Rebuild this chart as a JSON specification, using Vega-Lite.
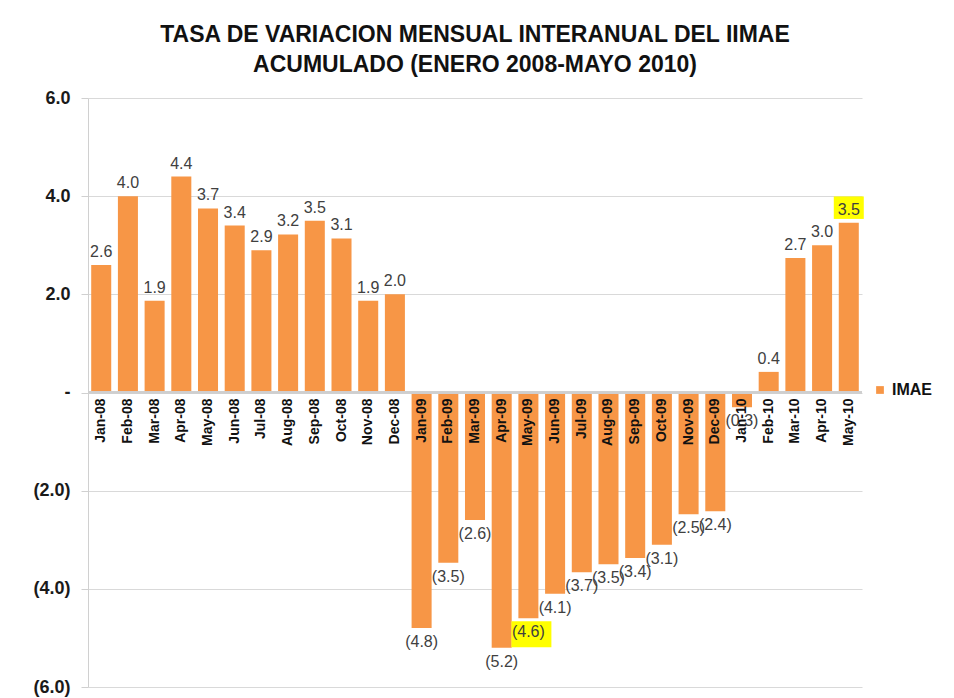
{
  "$schema": "https://vega.github.io/schema/vega-lite/v6.json",
  "autosize": {"type": "none"},
  "width": 774,
  "height": 589,
  "padding": {"left": 88, "top": 98, "right": 92, "bottom": 11},
  "background": "white",
  "title": {
    "text": ["TASA DE VARIACION MENSUAL INTERANUAL DEL IIMAE", "ACUMULADO (ENERO 2008-MAYO 2010)"],
    "anchor": "middle",
    "font": "Liberation Sans",
    "fontSize": 23,
    "fontWeight": "bold",
    "color": "#111111",
    "lineHeight": 30,
    "offset": 12
  },
  "config": {
    "view": {"stroke": null},
    "font": "Liberation Sans"
  },
  "data": {
    "values": [
      {"month": "Jan-08", "value": 2.6, "label": "2.6", "hl": false},
      {"month": "Feb-08", "value": 4.0, "label": "4.0", "hl": false},
      {"month": "Mar-08", "value": 1.87, "label": "1.9", "hl": false},
      {"month": "Apr-08", "value": 4.4, "label": "4.4", "hl": false},
      {"month": "May-08", "value": 3.75, "label": "3.7", "hl": false},
      {"month": "Jun-08", "value": 3.4, "label": "3.4", "hl": false},
      {"month": "Jul-08", "value": 2.9, "label": "2.9", "hl": false},
      {"month": "Aug-08", "value": 3.22, "label": "3.2", "hl": false},
      {"month": "Sep-08", "value": 3.5, "label": "3.5", "hl": false},
      {"month": "Oct-08", "value": 3.14, "label": "3.1", "hl": false},
      {"month": "Nov-08", "value": 1.87, "label": "1.9", "hl": false},
      {"month": "Dec-08", "value": 2.0, "label": "2.0", "hl": false},
      {"month": "Jan-09", "value": -4.8, "label": "(4.8)", "hl": false},
      {"month": "Feb-09", "value": -3.47, "label": "(3.5)", "hl": false},
      {"month": "Mar-09", "value": -2.6, "label": "(2.6)", "hl": false},
      {"month": "Apr-09", "value": -5.2, "label": "(5.2)", "hl": false},
      {"month": "May-09", "value": -4.6, "label": "(4.6)", "hl": true},
      {"month": "Jun-09", "value": -4.1, "label": "(4.1)", "hl": false},
      {"month": "Jul-09", "value": -3.66, "label": "(3.7)", "hl": false},
      {"month": "Aug-09", "value": -3.5, "label": "(3.5)", "hl": false},
      {"month": "Sep-09", "value": -3.37, "label": "(3.4)", "hl": false},
      {"month": "Oct-09", "value": -3.1, "label": "(3.1)", "hl": false},
      {"month": "Nov-09", "value": -2.48, "label": "(2.5)", "hl": false},
      {"month": "Dec-09", "value": -2.42, "label": "(2.4)", "hl": false},
      {"month": "Jan-10", "value": -0.3, "label": "(0.3)", "hl": false},
      {"month": "Feb-10", "value": 0.42, "label": "0.4", "hl": false},
      {"month": "Mar-10", "value": 2.74, "label": "2.7", "hl": false},
      {"month": "Apr-10", "value": 3.0, "label": "3.0", "hl": false},
      {"month": "May-10", "value": 3.46, "label": "3.5", "hl": true}
    ]
  },
  "encoding": {
    "x": {"field": "month", "type": "nominal", "sort": null, "axis": null,
          "scale": {"paddingInner": 0.25, "paddingOuter": 0.12}}
  },
  "layer": [
    {
      "mark": {"type": "bar", "color": "#F79646"},
      "encoding": {
        "y": {"field": "value", "type": "quantitative",
              "scale": {"domain": [-6, 6], "nice": false, "zero": true},
              "axis": {
                "title": null,
                "values": [-6, -4, -2, 0, 2, 4, 6],
                "labelExpr": "datum.value > 0 ? format(datum.value, '.1f') + '\u00a0' : (datum.value < 0 ? '(' + format(-datum.value, '.1f') + ')' : '-\u00a0\u00a0\u00a0\u00a0')",
                "labelFont": "Liberation Sans",
                "labelFontSize": 18,
                "labelFontWeight": "bold",
                "labelColor": "#1a1a1a",
                "labelPadding": 11,
                "tickSize": 7,
                "tickColor": "#d0d0d0",
                "domainColor": "#d0d0d0",
                "gridColor": "#d9d9d9",
                "grid": true
              }},
        "color": {"datum": "IMAE", "type": "nominal",
                  "scale": {"domain": ["IMAE"], "range": ["#F79646"]},
                  "legend": {
                    "title": null,
                    "orient": "none",
                    "legendX": 784,
                    "legendY": 284,
                    "symbolType": "square",
                    "symbolSize": 60,
                    "symbolStrokeWidth": 0,
                    "labelFont": "Liberation Sans",
                    "labelFontSize": 16,
                    "labelFontWeight": "bold",
                    "labelColor": "#111111",
                    "labelOffset": 4
                  }}
      }
    },
    {
      "mark": {"type": "rule", "color": "#cfcfcf", "strokeWidth": 1.5},
      "encoding": {"y": {"datum": 0}, "x": null}
    },
    {
      "transform": [{"filter": "datum.hl && datum.value > 0"}],
      "mark": {"type": "point", "shape": "M-1,-0.75H1V0.75H-1Z", "filled": true, "color": "#FFFF00", "opacity": 1, "size": 900, "yOffset": -15},
      "encoding": {"y": {"field": "value", "type": "quantitative"}}
    },
    {
      "transform": [{"filter": "datum.hl && datum.value < 0"}],
      "mark": {"type": "point", "shape": "M-1,-0.65H1V0.65H-1Z", "filled": true, "color": "#FFFF00", "opacity": 1, "size": 1600, "yOffset": 16, "xOffset": 3},
      "encoding": {"y": {"field": "value", "type": "quantitative"}}
    },
    {
      "transform": [{"filter": "datum.value > 0"}],
      "mark": {"type": "text", "baseline": "bottom", "dy": -5, "fontSize": 16, "color": "#404040", "font": "Liberation Sans"},
      "encoding": {"y": {"field": "value", "type": "quantitative"}, "text": {"field": "label"}}
    },
    {
      "transform": [{"filter": "datum.value < 0"}],
      "mark": {"type": "text", "baseline": "top", "dy": 6, "fontSize": 16, "color": "#404040", "font": "Liberation Sans"},
      "encoding": {"y": {"field": "value", "type": "quantitative"}, "text": {"field": "label"}}
    },
    {
      "mark": {"type": "text", "angle": 270, "align": "right", "baseline": "middle", "dx": -6, "fontSize": 14, "fontWeight": "bold", "color": "#111111", "font": "Liberation Sans"},
      "encoding": {"y": {"datum": 0}, "text": {"field": "month"}}
    }
  ]
}
